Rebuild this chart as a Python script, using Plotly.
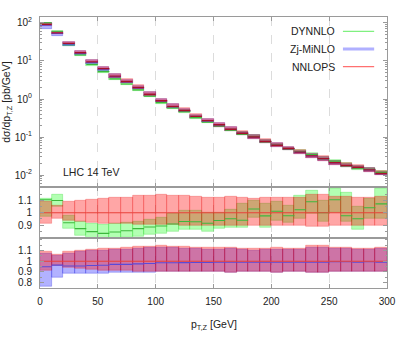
import numpy as np
import plotly.graph_objects as go

# pT,Z bins (GeV), 10 GeV wide
bin_lo = np.arange(0, 300, 10)
bin_hi = bin_lo + 10
centers = bin_lo + 5

# NNLOPS central value, dsigma/dpT [pb/GeV]
nnlops = np.array([92, 55, 29, 16.5, 9.5, 6.3, 4.0, 2.9, 2.0, 1.34,
                   0.90, 0.64, 0.50, 0.35, 0.27, 0.21, 0.16, 0.126, 0.100, 0.077,
                   0.061, 0.050, 0.040, 0.032, 0.027, 0.021, 0.018, 0.016, 0.0137, 0.011])

# NNLOPS uncertainty band (ratio to central)
nnlops_hi = np.array([1.09, 1.06, 1.088, 1.095, 1.105, 1.115, 1.12, 1.125, 1.135, 1.14,
                      1.145, 1.14, 1.135, 1.13, 1.125, 1.125, 1.13, 1.12, 1.115, 1.12,
                      1.125, 1.12, 1.12, 1.145, 1.145, 1.13, 1.13, 1.12, 1.12, 1.13])
nnlops_lo = np.array([0.91, 0.955, 0.94, 0.93, 0.92, 0.915, 0.91, 0.91, 0.905, 0.905,
                      0.905, 0.905, 0.90, 0.90, 0.90, 0.90, 0.895, 0.90, 0.90, 0.90,
                      0.895, 0.90, 0.90, 0.89, 0.89, 0.90, 0.90, 0.90, 0.90, 0.90])

# DYNNLO / NNLOPS
dy_ratio = np.array([1.104, 1.098, 0.92, 0.872, 0.848, 0.834, 0.845, 0.855, 0.872, 0.885,
                     0.893, 0.91, 0.93, 0.928, 0.915, 0.938, 0.952, 0.94, 1.03, 0.975,
                     1.012, 0.976, 1.024, 1.088, 1.0, 1.104, 0.976, 0.952, 1.04, 1.071])
dy_hi = np.array([1.114, 1.146, 0.973, 0.93, 0.912, 0.905, 0.91, 0.92, 0.93, 0.945,
                  0.96, 0.99, 1.02, 1.02, 1.0, 1.0, 1.024, 1.07, 1.10, 1.07,
                  1.09, 1.06, 1.14, 1.18, 1.10, 1.19, 1.16, 1.05, 1.11, 1.19])
dy_lo = np.array([0.968, 1.048, 0.874, 0.813, 0.79, 0.78, 0.79, 0.80, 0.81, 0.82,
                  0.83, 0.85, 0.86, 0.86, 0.85, 0.87, 0.877, 0.88, 0.96, 0.88,
                  0.94, 0.92, 0.95, 0.99, 0.93, 1.0, 0.93, 0.86, 0.95, 0.95])

# Zj-MiNLO / NNLOPS
mi_ratio = np.array([0.948, 0.963, 0.955, 0.955, 0.96, 0.962, 0.97, 0.97, 0.975, 0.978,
                     0.985, 0.985, 0.987, 0.988, 0.988, 0.99, 0.99, 0.99, 0.99, 0.99,
                     0.99, 0.99, 0.99, 0.99, 0.99, 0.995, 0.995, 0.99, 0.995, 0.99])
mi_hi = np.array([1.075, 1.05, 1.075, 1.085, 1.095, 1.10, 1.105, 1.11, 1.12, 1.125,
                  1.13, 1.125, 1.12, 1.115, 1.11, 1.11, 1.115, 1.105, 1.10, 1.105,
                  1.11, 1.105, 1.105, 1.13, 1.13, 1.115, 1.115, 1.105, 1.105, 1.115])
mi_lo = np.array([0.76, 0.85, 0.88, 0.882, 0.885, 0.888, 0.89, 0.89, 0.895, 0.895,
                  0.90, 0.90, 0.90, 0.90, 0.90, 0.90, 0.895, 0.90, 0.90, 0.90,
                  0.895, 0.90, 0.90, 0.89, 0.89, 0.90, 0.90, 0.90, 0.90, 0.90])

series_names = ['DYNNLO', 'Zj-MiNLO', 'NNLOPS']
band_colors = ['rgba(0,255,0,0.30)', 'rgba(0,0,255,0.30)', 'rgba(255,0,0,0.35)']
edge_colors = ['rgba(0,200,0,0.35)', 'rgba(0,0,220,0.35)', 'rgba(230,0,0,0.35)']
line_colors = ['#3cb83c', '#5a4ad8', '#e8403a']
legend_colors = ['#80f080', '#b0b0ff', '#ff7070']

FONT = 'Liberation Sans'
AXCOL = '#9a9a9a'


def seg_xy(vals):
    # one horizontal segment per bin
    xs, ys = [], []
    for a, b, v in zip(bin_lo, bin_hi, vals):
        xs += [a, b, None]
        ys += [v, v, None]
    return xs, ys


def band(lo, hi, i, ax):
    return go.Bar(x=centers, y=hi - lo, base=lo, width=10,
                  marker=dict(color=band_colors[i], line=dict(color=edge_colors[i], width=0.7)),
                  xaxis=ax[0], yaxis=ax[1], showlegend=False, hoverinfo='skip')


def line(vals, i, ax, w=1.1, color=None):
    xs, ys = seg_xy(vals)
    return go.Scatter(x=xs, y=ys, mode='lines', line=dict(color=color or line_colors[i], width=w),
                      xaxis=ax[0], yaxis=ax[1], showlegend=False, hoverinfo='skip')


fig = go.Figure()

# top panel: spectra
top = ('x', 'y')
fig.add_trace(band(nnlops * dy_lo, nnlops * dy_hi, 0, top))
fig.add_trace(band(nnlops * mi_lo, nnlops * mi_hi, 1, top))
fig.add_trace(line(nnlops * dy_ratio, 0, top))
fig.add_trace(line(nnlops * mi_ratio, 1, top))
fig.add_trace(band(nnlops * nnlops_lo, nnlops * nnlops_hi, 2, top))
fig.add_trace(line(nnlops, 2, top, 1.4, '#a8102a'))

# middle panel: DYNNLO / NNLOPS
mid = ('x2', 'y2')
fig.add_trace(band(dy_lo, dy_hi, 0, mid))
fig.add_trace(line(dy_ratio, 0, mid))
fig.add_trace(band(nnlops_lo, nnlops_hi, 2, mid))
fig.add_trace(line(np.ones(30), 2, mid))

# bottom panel: Zj-MiNLO / NNLOPS
bot = ('x3', 'y3')
fig.add_trace(band(mi_lo, mi_hi, 1, bot))
fig.add_trace(line(mi_ratio, 1, bot))
fig.add_trace(band(nnlops_lo, nnlops_hi, 2, bot))
fig.add_trace(line(np.ones(30), 2, bot))

xcommon = dict(range=[0, 300], dtick=50, ticks='inside', ticklen=4, tickcolor=AXCOL,
               showline=True, linecolor=AXCOL, linewidth=1, mirror='ticks',
               showgrid=True, gridcolor='#dcdcdc', griddash='dash', gridwidth=1,
               zeroline=False, tickfont=dict(family=FONT, size=10, color='#222'))
ycommon = dict(ticks='inside', ticklen=4, tickcolor=AXCOL, showline=True, linecolor=AXCOL,
               linewidth=1, mirror='ticks', showgrid=False, zeroline=False,
               ticklabelstandoff=5, tickfont=dict(family=FONT, size=10, color='#222'))

fig.update_layout(
    width=407, height=339,
    margin=dict(l=40, r=20, t=17, b=51),
    paper_bgcolor='white', plot_bgcolor='white',
    barmode='overlay', bargap=0,
    showlegend=False,
    font=dict(family=FONT, size=10, color='#222'),
    xaxis=dict(xcommon, anchor='y', showticklabels=False),
    xaxis2=dict(xcommon, anchor='y2', showticklabels=False, matches='x'),
    xaxis3=dict(xcommon, anchor='y3', matches='x', ticklabelstandoff=4),
    yaxis=dict(ycommon, type='log', range=[-2.305, 2.157], domain=[0.374, 1],
               tickvals=[0.01, 0.1, 1, 10, 100],
               ticktext=['10<sup>-2</sup>', '10<sup>-1</sup>', '10<sup>0</sup>',
                         '10<sup>1</sup>', '10<sup>2</sup>'],
               minor=dict(ticks='inside', ticklen=2, tickcolor=AXCOL, dtick='D1')),
    yaxis2=dict(ycommon, range=[0.8, 1.21], domain=[0.186, 0.374],
                tickvals=[0.9, 1, 1.1], ticktext=['0.9', '1', '1.1'],
                minor=dict(ticks='inside', ticklen=2, tickcolor=AXCOL, dtick=0.05)),
    yaxis3=dict(ycommon, range=[0.75, 1.22], domain=[0, 0.186],
                tickvals=[0.8, 0.9, 1, 1.1], ticktext=['0.8', '0.9', '1', '1.1'],
                minor=dict(ticks='inside', ticklen=2, tickcolor=AXCOL, dtick=0.05)),
)

# axis titles
fig.add_annotation(text='dσ/dp<sub>T,Z</sub> [pb/GeV]', textangle=-90,
                   xref='paper', yref='paper', x=-0.095, y=0.687,
                   xanchor='center', yanchor='middle',
                   showarrow=False, font=dict(family=FONT, size=10.5, color='#222'))
fig.add_annotation(text='p<sub>T,Z</sub> [GeV]', xref='paper', yref='paper',
                   x=0.5, y=-0.138, xanchor='center', yanchor='middle', showarrow=False,
                   font=dict(family=FONT, size=10.5, color='#222'))
fig.add_annotation(text='LHC 14 TeV', xref='paper', yref='paper', x=0.06, y=0.429,
                   xanchor='left', yanchor='middle', showarrow=False,
                   font=dict(family=FONT, size=10.5, color='#222'))

# legend (text then sample, gnuplot style)
leg_y = [0.947, 0.882, 0.817]
for name, col, ly, w in zip(series_names, legend_colors, leg_y, [1.2, 3, 1.2]):
    fig.add_annotation(text=name, xref='paper', yref='paper', x=0.855, y=ly,
                       xanchor='right', yanchor='middle', showarrow=False,
                       font=dict(family=FONT, size=10.5, color='#222'))
    fig.add_shape(type='line', xref='paper', yref='paper', x0=0.873, x1=0.963,
                  y0=ly, y1=ly, line=dict(color=col, width=w))

# drop the default page margin so the figure sits at the window corner
fig.write_html("out.html", config={'displayModeBar': False},
               post_script="document.body.style.margin='0px';")
